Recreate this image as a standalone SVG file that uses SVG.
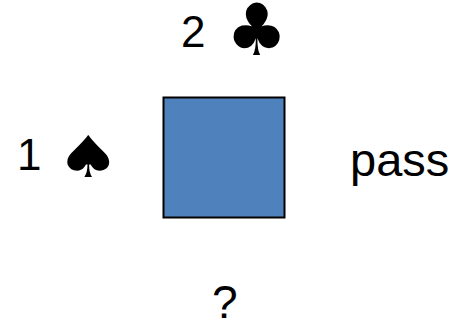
<svg xmlns="http://www.w3.org/2000/svg" width="465" height="322" viewBox="0 0 465 322">
<style>
.t{font-family:"Liberation Sans",Arial,sans-serif;font-size:44px;fill:#000}
.s{font-family:"DejaVu Sans",sans-serif;font-size:72px;fill:#000}
.box{fill:#4f81bd;stroke:#000;stroke-width:2}
</style>
<rect width="465" height="322" fill="#fff"/>
<g id="north"><text class="t" x="181" y="47">2</text><text class="s" x="0" y="0" transform="translate(226,55) scale(0.95,1)">♣</text></g>
<g id="west"><text class="t" x="17" y="170">1</text><text class="s" x="0" y="0" transform="translate(56,177) scale(1,0.8)">♠</text></g>
<g id="table"><rect class="box" x="163.5" y="97.5" width="121" height="120"/></g>
<g id="east"><text class="t" x="350" y="176" style="font-size:47px">pass</text></g>
<g id="south"><text class="t" x="212" y="318" style="font-size:46px">?</text></g>
<g id="connectors"/>
</svg>
